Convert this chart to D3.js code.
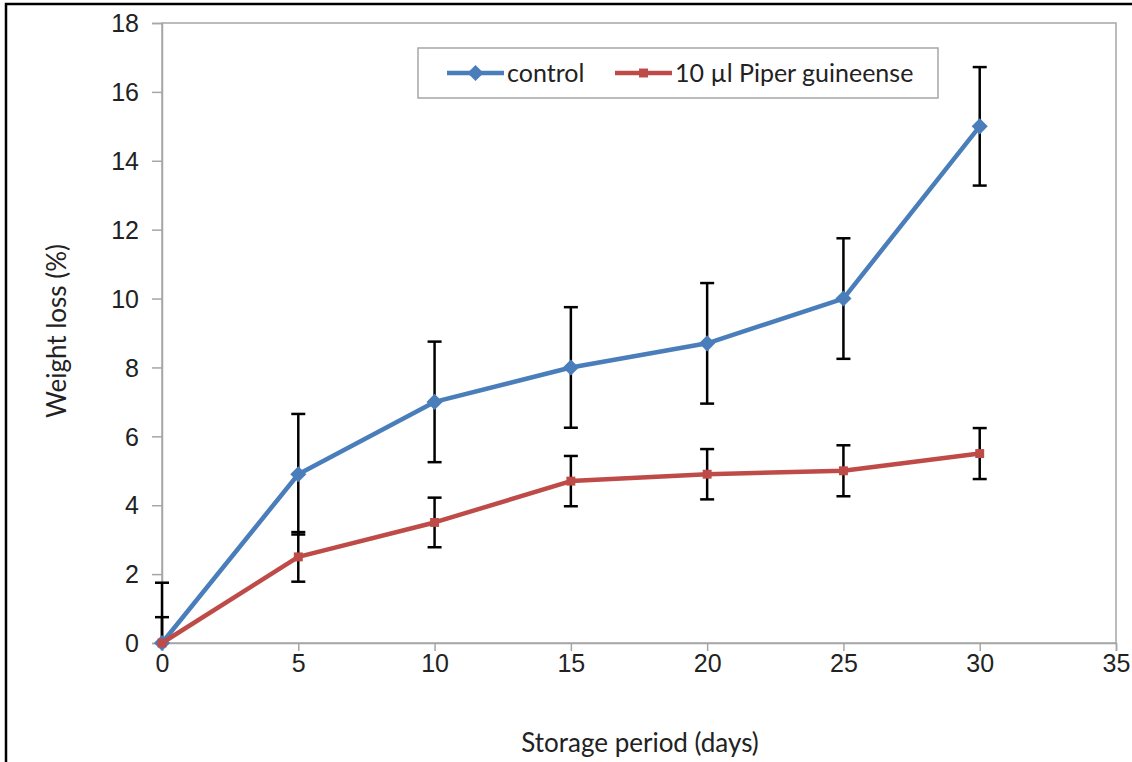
<!DOCTYPE html>
<html>
<head>
<meta charset="utf-8">
<script src="https://cdn.jsdelivr.net/npm/d3@7"></script>
<style>
  body { margin: 0; background: #fff; }
  svg { font-family: Lato, "Open Sans", sans-serif; }
</style>
</head>
<body>
<div id="chart"></div>
<script>
// data
var days = [0, 5, 10, 15, 20, 25, 30];
var controlLoss = [0, 4.9, 7.0, 8.0, 8.7, 10.0, 15.0];
var controlErr = [1.75, 1.75, 1.75, 1.75, 1.75, 1.75, 1.72];
var piperLoss = [0, 2.5, 3.5, 4.7, 4.9, 5.0, 5.5];
var piperErr = [0.75, 0.72, 0.72, 0.73, 0.73, 0.74, 0.74];
var seriesNames = ["control", "10 µl Piper guineense"];
var xTicks = [0, 5, 10, 15, 20, 25, 30, 35];
var yTicks = [0, 2, 4, 6, 8, 10, 12, 14, 16, 18];

var margin = {top: 23, right: 16, bottom: 119, left: 162},
    width = 1132 - margin.left - margin.right,
    height = 762 - margin.top - margin.bottom;

var svg = d3.select("#chart")
  .append("svg")
    .attr("width", 1132)
    .attr("height", 762);

// outer frame (cut off at right and bottom)
svg.append("path")
  .attr("d", "M6,762 V4 H1132")
  .attr("fill", "none")
  .attr("stroke", "#000")
  .attr("stroke-width", 2.5);

var g = svg.append("g")
  .attr("transform", "translate(" + margin.left + "," + margin.top + ")");

var x = d3.scaleLinear().domain([0, 35]).range([0, width]);
var y = d3.scaleLinear().domain([0, 18]).range([height, 0]);

// plot area border
g.append("rect")
  .attr("width", width)
  .attr("height", height)
  .attr("fill", "none")
  .attr("stroke", "#a6a6a6")
  .attr("stroke-width", 1.5);

// axes
var yAxis = g.append("g")
  .call(d3.axisLeft(y).tickValues(yTicks).tickSize(10).tickPadding(13));
var xAxis = g.append("g")
  .attr("transform", "translate(0," + height + ")")
  .call(d3.axisBottom(x).tickValues(xTicks).tickSize(8).tickPadding(3));

[xAxis, yAxis].forEach(function(a) {
  a.selectAll(".domain").attr("stroke", "#a6a6a6").attr("stroke-width", 1.5);
  a.selectAll(".tick line").attr("stroke", "#a6a6a6").attr("stroke-width", 1.5);
  a.selectAll("text").attr("fill", "#222").style("font-size", "25px");
});
yAxis.selectAll("text").attr("dy", "0.35em");

// axis titles
svg.append("text")
  .attr("x", 640)
  .attr("y", 752)
  .attr("text-anchor", "middle")
  .attr("fill", "#222")
  .style("font-size", "26px")
  .text("Storage period (days)");

svg.append("text")
  .attr("transform", "translate(66," + (margin.top + y(9) - 2) + ") rotate(-90)")
  .attr("text-anchor", "middle")
  .attr("fill", "#222")
  .style("font-size", "26px")
  .text("Weight loss (%)");

// clip for error bars (only the bottom edge matters)
g.append("clipPath").attr("id", "clip")
  .append("rect").attr("x", -30).attr("y", -30)
  .attr("width", width + 60).attr("height", height + 30);

var series = [
  {name: seriesNames[0], vals: controlLoss, err: controlErr, color: "#4a7ebb"},
  {name: seriesNames[1], vals: piperLoss, err: piperErr, color: "#be4b48"}
];

var eb = g.append("g").attr("clip-path", "url(#clip)");
series.forEach(function(s) {
  days.forEach(function(d, i) {
    var cx = x(d), lo = y(s.vals[i] - s.err[i]), hi = y(s.vals[i] + s.err[i]);
    eb.append("line").attr("x1", cx).attr("x2", cx).attr("y1", lo).attr("y2", hi)
      .attr("stroke", "#000").attr("stroke-width", 2.5);
    [lo, hi].forEach(function(yy) {
      eb.append("line").attr("x1", cx - 7).attr("x2", cx + 7).attr("y1", yy).attr("y2", yy)
        .attr("stroke", "#000").attr("stroke-width", 2.5);
    });
  });
});

var line = d3.line()
  .x(function(d) { return x(d[0]); })
  .y(function(d) { return y(d[1]); });

var diamond = d3.symbol().type(d3.symbolSquare).size(130);
var square = d3.symbol().type(d3.symbolSquare).size(80);

series.forEach(function(s, k) {
  var pts = days.map(function(d, i) { return [d, s.vals[i]]; });
  g.append("path")
    .datum(pts)
    .attr("d", line)
    .attr("fill", "none")
    .attr("stroke", s.color)
    .attr("stroke-width", 4.5)
    .attr("stroke-linejoin", "round");
  g.selectAll(".m" + k)
    .data(pts)
    .enter().append("path")
      .attr("class", "m" + k)
      .attr("d", k == 0 ? diamond() : square())
      .attr("transform", function(d) {
        return "translate(" + x(d[0]) + "," + y(d[1]) + ")" + (k == 0 ? " rotate(45)" : "");
      })
      .attr("fill", s.color);
});

// legend
var leg = svg.append("g").attr("transform", "translate(418,48)");
leg.append("rect")
  .attr("width", 520).attr("height", 50)
  .attr("fill", "#fff")
  .attr("stroke", "#a6a6a6").attr("stroke-width", 1.5);

var legX = [29, 197];
series.forEach(function(s, k) {
  var li = leg.append("g").attr("transform", "translate(" + legX[k] + ",25)");
  li.append("line").attr("x1", 0).attr("x2", 57)
    .attr("stroke", s.color).attr("stroke-width", 4.5);
  li.append("path")
    .attr("d", k == 0 ? diamond() : square())
    .attr("transform", "translate(28.5,0)" + (k == 0 ? " rotate(45)" : ""))
    .attr("fill", s.color);
  li.append("text")
    .attr("x", 60).attr("dy", "0.35em")
    .attr("fill", "#222")
    .style("font-size", "25px")
    .text(s.name);
});
</script>
</body>
</html>
